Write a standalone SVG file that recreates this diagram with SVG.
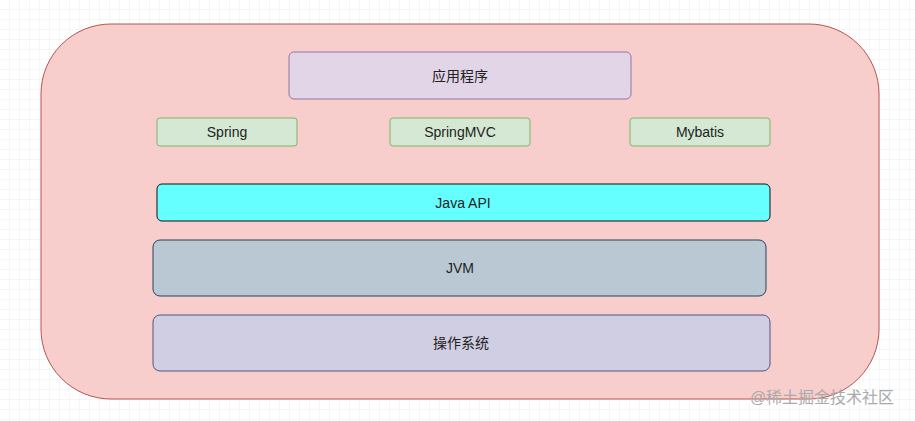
<svg xmlns="http://www.w3.org/2000/svg" width="915" height="421" viewBox="0 0 915 421">
<defs>
<pattern id="g" width="10" height="10" patternUnits="userSpaceOnUse"><path d="M10 0V10H0" fill="none" stroke="#ececec" stroke-width="1"/></pattern>
<style>
text{font-family:"Liberation Sans","Noto Sans CJK SC",sans-serif;font-size:14px;fill:#222;text-anchor:middle;dominant-baseline:central}
.g{fill:#d5e8d4;stroke:#82b366}
</style>
</defs>
<rect width="915" height="421" fill="#fff"/>
<rect width="915" height="421" fill="url(#g)"/>
<g id="outer"><rect x="41" y="24" width="838" height="375" rx="70" fill="#f8cecc" stroke="#b85450"/></g>
<g id="app"><rect x="289" y="52" width="342" height="47" rx="5" fill="#e1d5e7" stroke="#9673a6"/><text x="460" y="76">应用程序</text></g>
<g id="spring"><rect class="g" x="157" y="118" width="140" height="28" rx="3"/><text x="227" y="132">Spring</text></g>
<g id="springmvc"><rect class="g" x="390" y="118" width="140" height="28" rx="3"/><text x="460" y="132">SpringMVC</text></g>
<g id="mybatis"><rect class="g" x="630" y="118" width="140" height="28" rx="3"/><text x="700" y="132">Mybatis</text></g>
<g id="javaapi"><rect x="157" y="184" width="613" height="37" rx="5" fill="#66ffff" stroke="#111"/><text x="463" y="203">Java API</text></g>
<g id="jvm"><rect x="153" y="240" width="613" height="56" rx="7" fill="#bac8d3" stroke="#23445d"/><text x="460" y="268">JVM</text></g>
<g id="os"><rect x="153" y="315" width="617" height="56" rx="7" fill="#d0cee2" stroke="#56517e"/><text x="461" y="343">操作系统</text></g>
<g id="connectors"/>
<text x="822" y="397" style="font-size:16px;fill:#aaa">@稀土掘金技术社区</text>
</svg>
